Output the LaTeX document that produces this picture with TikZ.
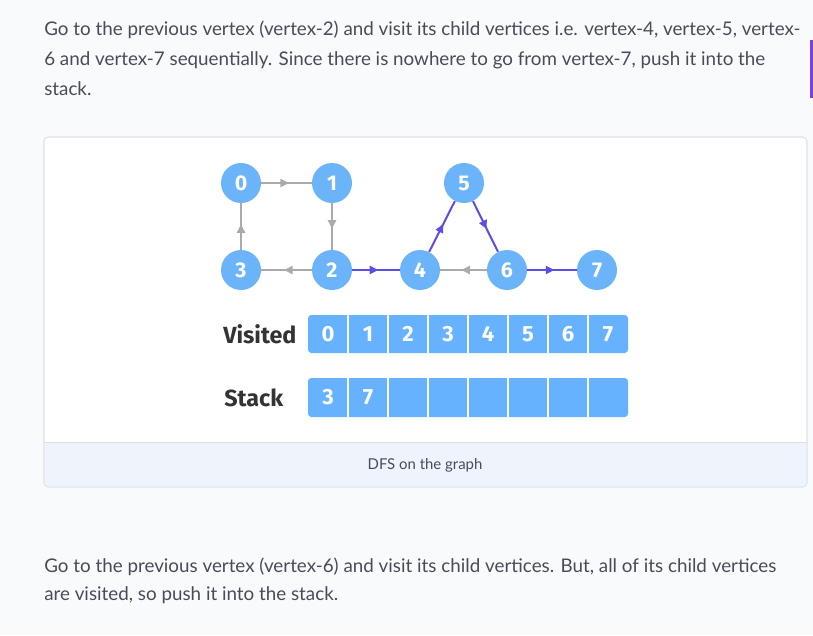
\documentclass[tikz,border=0pt]{standalone}
\usepackage{fontspec}
\setmainfont{Lato}
\newfontfamily\boldsans{Fira Sans}
\usepackage{xcolor}
\usetikzlibrary{positioning,arrows.meta,decorations.markings}
\definecolor{pagebg}{HTML}{F9FAFC}
\definecolor{bodytext}{HTML}{474D57}
\definecolor{boxline}{HTML}{DADFE6}
\definecolor{capbg}{HTML}{EFF4FC}
\definecolor{nodeblue}{HTML}{6CB4FA}
\definecolor{cellblue}{HTML}{66B2FF}
\definecolor{edgegray}{HTML}{AAAAAA}
\definecolor{edgepurple}{HTML}{5A4FE0}
\definecolor{barpurple}{HTML}{7B3FE4}
\definecolor{labeldark}{HTML}{333333}

\begin{document}
\begin{tikzpicture}[x=0.75pt,y=-0.75pt,
    every node/.style={on grid,node distance=65.25pt},
    vertex/.style={circle,fill=nodeblue,text=white,minimum size=30pt,inner sep=0pt,
      font=\boldsans\bfseries\fontsize{16}{16}\selectfont},
    midarrow/.style={postaction={decorate},decoration={markings,
      mark=at position 0.55 with {\arrow[#1]{Triangle[length=6.5pt,width=6pt]}}}},
    edge/.style={line width=1.5pt,draw=#1,midarrow=#1},
    para/.style={anchor=base west,text=bodytext,inner sep=0pt,font=\fontsize{14.1}{16}\selectfont},
    cell/.style={text=white,font=\boldsans\bfseries\fontsize{16.5}{16.5}\selectfont},
    rowlabel/.style={anchor=base west,inner sep=0pt,text=labeldark,font=\boldsans\bfseries\fontsize{17.5}{18}\selectfont}]
  \useasboundingbox[fill=pagebg] (0,0) rectangle (813,635);
  % text above
  \node[para] (p1) at (44,36) {Go to the previous vertex (vertex-2) and visit its child vertices i.e. vertex-4, vertex-5, vertex-};
  \node[para] (p2) at (44,65) {6 and vertex-7 sequentially. Since there is nowhere to go from vertex-7, push it into the};
  \node[para] (p3) at (44,95) {stack.};
  \fill[barpurple] (810,40) rectangle (813,98);
  % figure box
  \draw[boxline,fill=white,rounded corners=3pt] (44,137) rectangle (807,487);
  \begin{scope}
    \clip[rounded corners=3pt] (44,137) rectangle (807,487);
    \fill[capbg] (44,442) rectangle (807,487);
  \end{scope}
  \draw[boxline,rounded corners=3pt] (44,137) rectangle (807,487);
  \draw[boxline] (44,442) -- (807,442);
  \node[text=bodytext,font=\fontsize{11.2}{13}\selectfont,anchor=base] (cap) at (425,469) {DFS on the graph};
  % graph
  \node[vertex] (n0) at (241,183) {0};
  \node[vertex,right=68.25pt of n0] (n1) {1};
  \node[vertex,below=of n0] (n3) {3};
  \node[vertex,below=of n1] (n2) {2};
  \node[vertex,right=66pt of n2] (n4) {4};
  \node[vertex,above right=65.25pt and 33pt of n4] (n5) {5};
  \node[vertex,right=65.25pt of n4] (n6) {6};
  \node[vertex,right=67.5pt of n6] (n7) {7};
  \draw[edge=edgegray] (n0) -- (n1);
  \draw[edge=edgegray] (n1) -- (n2);
  \draw[edge=edgegray] (n2) -- (n3);
  \draw[edge=edgegray] (n3) -- (n0);
  \draw[edge=edgegray] (n6) -- (n4);
  \draw[edge=edgepurple] (n2) -- (n4);
  \draw[edge=edgepurple] (n4) -- (n5);
  \draw[edge=edgepurple] (n5) -- (n6);
  \draw[edge=edgepurple] (n6) -- (n7);
  % visited and stack
  \node[rowlabel] (vlab) at (223,343) {Visited};
  \node[rowlabel] (slab) at (224,406) {Stack};
  \fill[cellblue,rounded corners=2.5pt] (308,315) rectangle (628,353);
  \fill[cellblue,rounded corners=2.5pt] (308,378) rectangle (628,417);
  \foreach \i in {1,...,7} {
    \draw[white,line width=0.9pt] (308+40*\i,315) -- (308+40*\i,353);
    \draw[white,line width=0.9pt] (308+40*\i,378) -- (308+40*\i,417);
  }
  \foreach \i in {0,...,7}
    \node[cell] (v\i) at (328+40*\i,334) {\i};
  \node[cell] (s0) at (328,397.5) {3};
  \node[cell] (s1) at (368,397.5) {7};
  % text below
  \node[para] (q1) at (44,572) {Go to the previous vertex (vertex-6) and visit its child vertices. But, all of its child vertices};
  \node[para] (q2) at (44,600) {are visited, so push it into the stack.};
\end{tikzpicture}
\end{document}
